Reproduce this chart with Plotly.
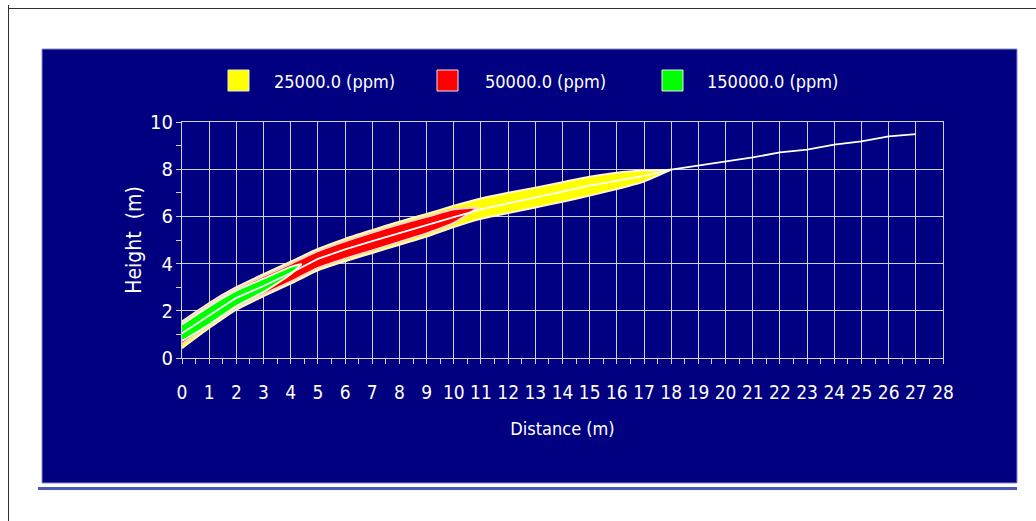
import plotly.graph_objects as go

# ---- plume data (distance in m, height in m) ----
distance = list(range(0, 19))
yellow_upper = [1.55, 2.33, 3.00, 3.55, 4.08, 4.62, 5.05, 5.42, 5.78, 6.10,
                6.45, 6.76, 7.00, 7.22, 7.45, 7.68, 7.85, 7.94, 7.98]
yellow_lower = [0.42, 1.27, 2.05, 2.62, 3.15, 3.72, 4.10, 4.45, 4.80, 5.15,
                5.55, 5.90, 6.14, 6.38, 6.62, 6.88, 7.16, 7.48, 7.98]

red_distance = [0, 1, 2, 3, 4, 5, 6, 7, 8, 9, 10, 10.9]
red_upper = [1.50, 2.27, 2.94, 3.47, 3.99, 4.53, 4.95, 5.32, 5.67, 5.98, 6.30, 6.38]
red_lower = [0.60, 1.38, 2.14, 2.70, 3.24, 3.82, 4.21, 4.56, 4.92, 5.28, 5.72, 6.38]

green_distance = [0, 1, 2, 3, 4, 4.4]
green_upper = [1.42, 2.19, 2.86, 3.36, 3.86, 3.98]
green_lower = [0.72, 1.42, 2.20, 2.80, 3.55, 3.98]

centerline_distance = list(range(0, 28))
centerline_height = [1.05, 1.80, 2.55, 3.05, 3.60, 4.20, 4.60, 4.95, 5.30, 5.62,
                     5.97, 6.30, 6.56, 6.80, 7.05, 7.30, 7.50, 7.72, 7.98, 8.15,
                     8.33, 8.50, 8.71, 8.83, 9.04, 9.18, 9.39, 9.49]

x_ticks = list(range(0, 29))
y_ticks = [0, 2, 4, 6, 8, 10]

series_labels = ["25000.0 (ppm)", "50000.0 (ppm)", "150000.0 (ppm)"]
series_colors = ["#ffff00", "#ff0000", "#00ff00"]

NAVY = "#000080"
GRID = "#cfcfe6"
FONT = "DejaVu Sans Condensed, Liberation Sans Narrow, Arial Narrow, sans-serif"

W, H = 1036, 521
L, R, T, B = 182, 943, 122, 358   # plot area in pixels


def px(p):
    return (p - L) / (R - L)


def py(p):
    return (B - p) / (B - T)


def band(xs, upper, lower):
    return xs + xs[::-1], upper + lower[::-1]


fig = go.Figure()

edge_colors = ["#fff6cc", "#ffd8d0", "#e8ffd8"]
bands = [
    (distance, yellow_upper, yellow_lower),
    (red_distance, red_upper, red_lower),
    (green_distance, green_upper, green_lower),
]
for (xs, up, lo), col, edge, name in zip(bands, series_colors, edge_colors, series_labels):
    bx, by = band(xs, up, lo)
    fig.add_trace(go.Scatter(
        x=bx, y=by, fill="toself", fillcolor=col, mode="lines",
        line=dict(color=edge, width=2, shape="spline", smoothing=0.5),
        name=name, showlegend=False, hoverinfo="skip",
    ))

fig.add_trace(go.Scatter(
    x=centerline_distance, y=centerline_height, mode="lines",
    line=dict(color="#ffffff", width=1.8), showlegend=False, name="centerline",
))

shapes = [
    # page frame lines
    dict(type="line", xref="paper", yref="paper", x0=px(8), x1=px(W), y0=py(8.5), y1=py(8.5),
         line=dict(color="#303030", width=1), layer="below"),
    dict(type="line", xref="paper", yref="paper", x0=px(8.5), x1=px(8.5), y0=py(5), y1=py(H),
         line=dict(color="#303030", width=1), layer="below"),
    # chart panel
    dict(type="rect", xref="paper", yref="paper", x0=px(42), x1=px(1017), y0=py(49), y1=py(483),
         fillcolor=NAVY, line=dict(color="#8a8acc", width=1), layer="below"),
    dict(type="line", xref="paper", yref="paper", x0=px(38), x1=px(1017), y0=py(488.5), y1=py(488.5),
         line=dict(color="#4a58bd", width=3), layer="below"),
]

annotations = []
legend_boxes = [228, 437, 662]
legend_text_x = [272, 483, 705]
for bx0, tx, col, lab in zip(legend_boxes, legend_text_x, series_colors, series_labels):
    shapes.append(dict(type="rect", xref="paper", yref="paper",
                       x0=px(bx0), x1=px(bx0 + 21), y0=py(70), y1=py(91),
                       fillcolor=col, line=dict(color="#e8e8f0", width=1), layer="above"))
    annotations.append(dict(xref="paper", yref="paper", x=px(tx), y=py(81),
                            xanchor="left", yanchor="middle", text=lab, showarrow=False,
                            font=dict(family=FONT, size=18, color="#ffffff")))

fig.update_layout(
    width=W, height=H,
    margin=dict(l=L, r=W - R, t=T, b=H - B, pad=0),
    paper_bgcolor="#ffffff",
    plot_bgcolor=NAVY,
    shapes=shapes,
    annotations=annotations,
    showlegend=False,
    font=dict(family=FONT, color="#ffffff"),
)

fig.update_xaxes(
    range=[0, 28], tickvals=x_ticks, ticktext=[str(v) for v in x_ticks],
    showgrid=True, gridcolor=GRID, gridwidth=1,
    showline=True, linecolor=GRID, linewidth=1, mirror=True,
    ticks="outside", ticklen=5, tickcolor=GRID,
    minor=dict(dtick=0.5, ticks="outside", ticklen=5, tickcolor=GRID, showgrid=False),
    ticklabelstandoff=12,
    tickfont=dict(family=FONT, size=19, color="#ffffff"),
    title=dict(text="Distance (m)", font=dict(family=FONT, size=18, color="#ffffff"), standoff=20),
    zeroline=False,
)
fig.update_yaxes(
    range=[0, 10], tickvals=y_ticks, ticktext=[str(v) for v in y_ticks],
    showgrid=True, gridcolor=GRID, gridwidth=1,
    showline=True, linecolor=GRID, linewidth=1, mirror=True,
    ticks="",
    minor=dict(dtick=1, ticks="outside", ticklen=5, tickcolor=GRID, showgrid=False),
    ticklabelstandoff=4,
    tickfont=dict(family=FONT, size=20, color="#ffffff"),
    title=dict(text="Height  (m)", font=dict(family=FONT, size=21, color="#ffffff"), standoff=2),
    zeroline=False,
)

fig.write_html("out.html")
